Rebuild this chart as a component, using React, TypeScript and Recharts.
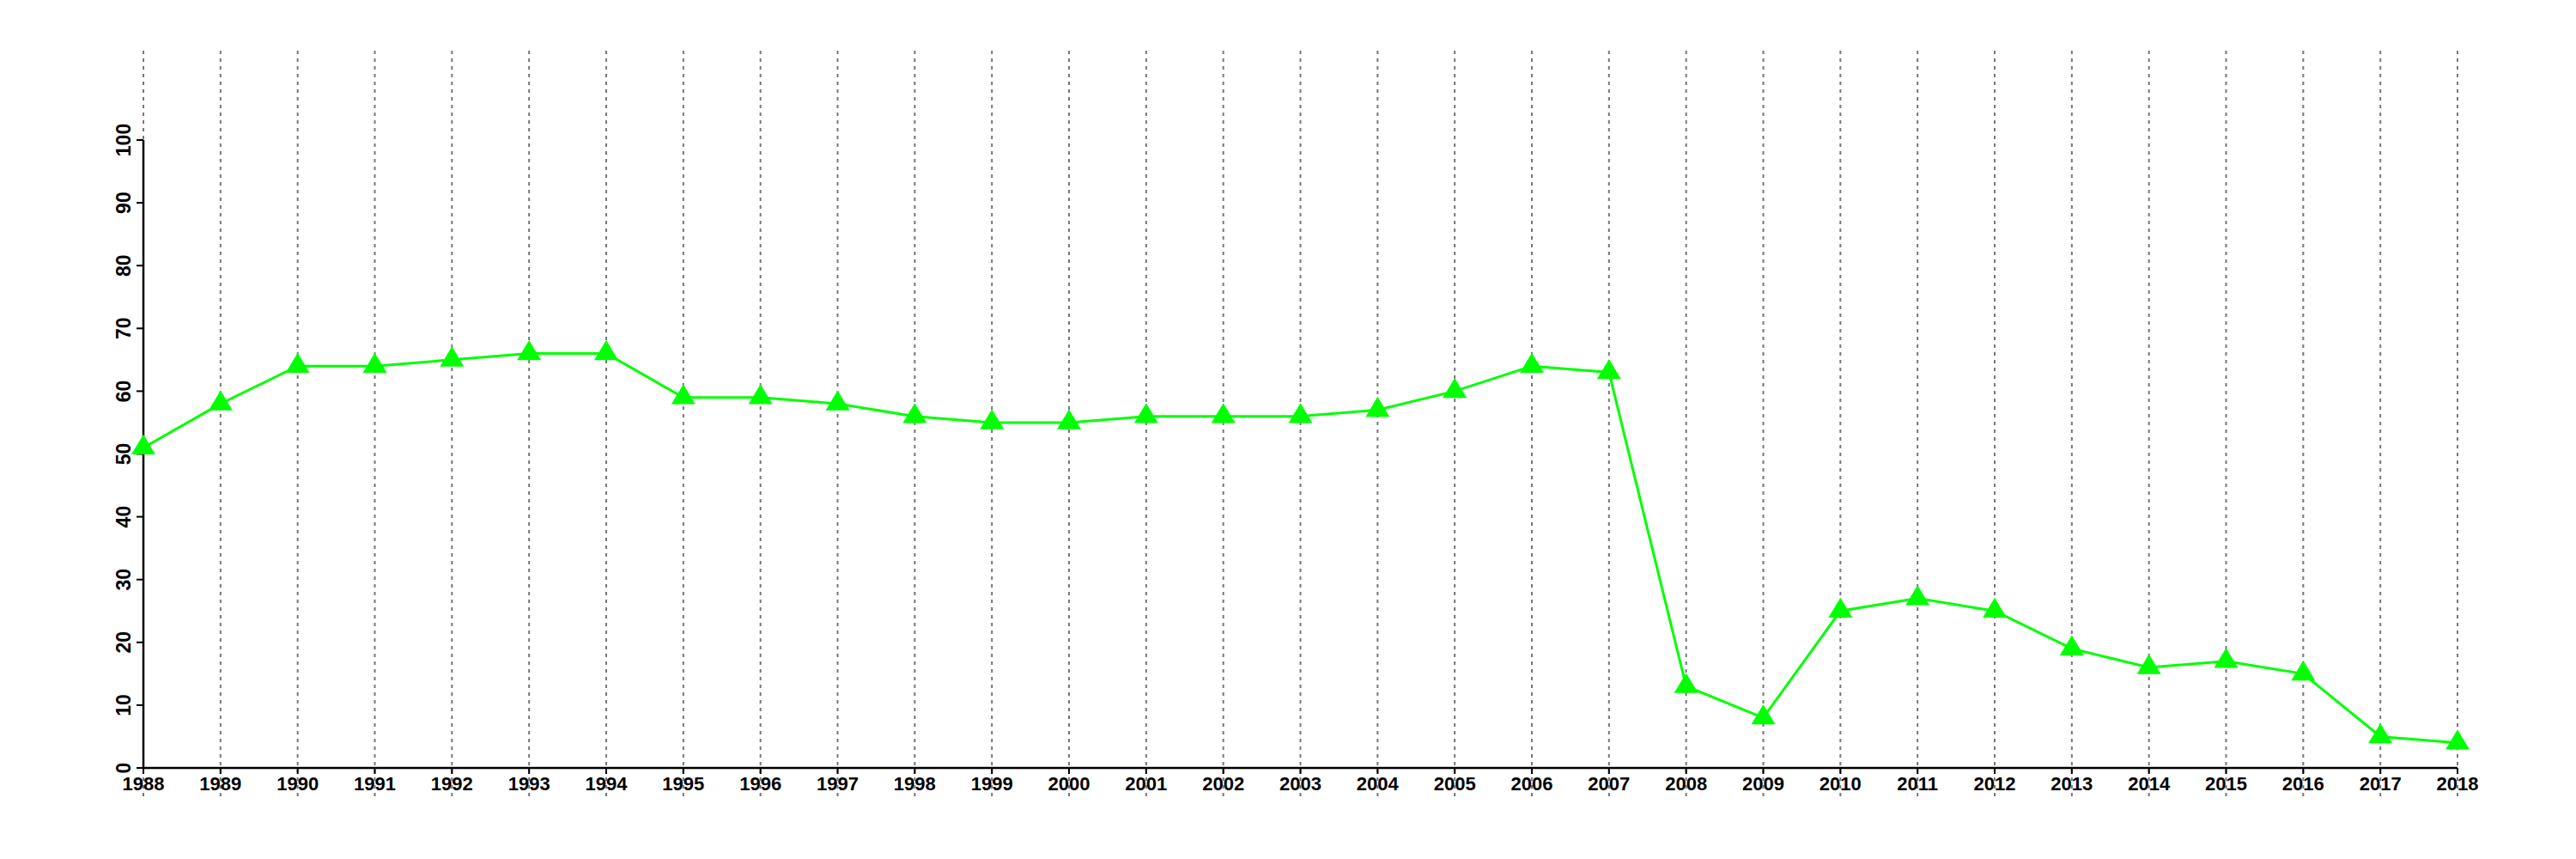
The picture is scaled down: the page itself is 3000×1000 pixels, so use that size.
import { LineChart, Line, XAxis, YAxis, ReferenceLine } from "recharts";

const years = [
  1988, 1989, 1990, 1991, 1992, 1993, 1994, 1995, 1996, 1997, 1998,
  1999, 2000, 2001, 2002, 2003, 2004, 2005, 2006, 2007, 2008, 2009,
  2010, 2011, 2012, 2013, 2014, 2015, 2016, 2017, 2018,
];
const values = [
  51, 58, 64, 64, 65, 66, 66, 59, 59, 58, 56,
  55, 55, 56, 56, 56, 57, 60, 64, 63, 13, 8,
  25, 27, 25, 19, 16, 17, 15, 5, 4,
];
const yTicks = [0, 10, 20, 30, 40, 50, 60, 70, 80, 90, 100];

// the dotted verticals run past the 0..100 box
const GRID_TOP = 114.3;
const GRID_BOTTOM = -4.5;

const data = years.map((year, i) => ({ year, value: values[i] }));

const FONT = "'Liberation Sans', Arial, Helvetica, sans-serif";

function Triangle(props: any) {
  const { cx, cy, index } = props;
  if (cx == null || cy == null) return null;
  const pts = `${cx},${cy - 15.5} ${cx - 14},${cy + 7.8} ${cx + 14},${cy + 7.8}`;
  return <polygon key={`tri-${index}`} points={pts} fill="#00ff00" stroke="none" />;
}

function YTick(props: any) {
  const { x, y, payload } = props;
  return (
    <text
      x={x}
      y={y}
      transform={`rotate(-90, ${x}, ${y})`}
      textAnchor="middle"
      fontFamily={FONT}
      fontWeight="bold"
      fontSize={23}
      fill="#000"
    >
      {payload.value}
    </text>
  );
}

export default function App() {
  return (
    <div style={{ position: "absolute", left: 0, top: 0, background: "#fff" }}>
      <LineChart
        width={3000}
        height={1000}
        data={data}
        margin={{ top: 163, right: 138, left: 107, bottom: 66 }}
      >
        <XAxis
          dataKey="year"
          type="number"
          domain={[1988, 2018]}
          ticks={years}
          interval={0}
          height={40}
          axisLine={{ stroke: "#000", strokeWidth: 2.5 }}
          tickLine={{ stroke: "#000", strokeWidth: 2 }}
          tickSize={7}
          tickMargin={3}
          tick={{ fill: "#000", fontSize: 22, fontFamily: FONT, fontWeight: "bold" }}
        />
        <YAxis
          type="number"
          domain={[0, 100]}
          ticks={yTicks}
          interval={0}
          width={60}
          axisLine={{ stroke: "#000", strokeWidth: 2.5 }}
          tickLine={{ stroke: "#000", strokeWidth: 2 }}
          tickSize={8}
          tickMargin={7}
          tick={<YTick />}
        />
        {years.map((yr) => (
          <ReferenceLine
            key={yr}
            segment={[
              { x: yr, y: GRID_BOTTOM },
              { x: yr, y: GRID_TOP },
            ]}
            ifOverflow="visible"
            stroke="#777"
            strokeWidth={2}
            strokeDasharray="4 5"
          />
        ))}
        <Line
          type="linear"
          dataKey="value"
          stroke="#00ff00"
          strokeWidth={3}
          dot={<Triangle />}
          activeDot={false}
          isAnimationActive={false}
        />
      </LineChart>
    </div>
  );
}
